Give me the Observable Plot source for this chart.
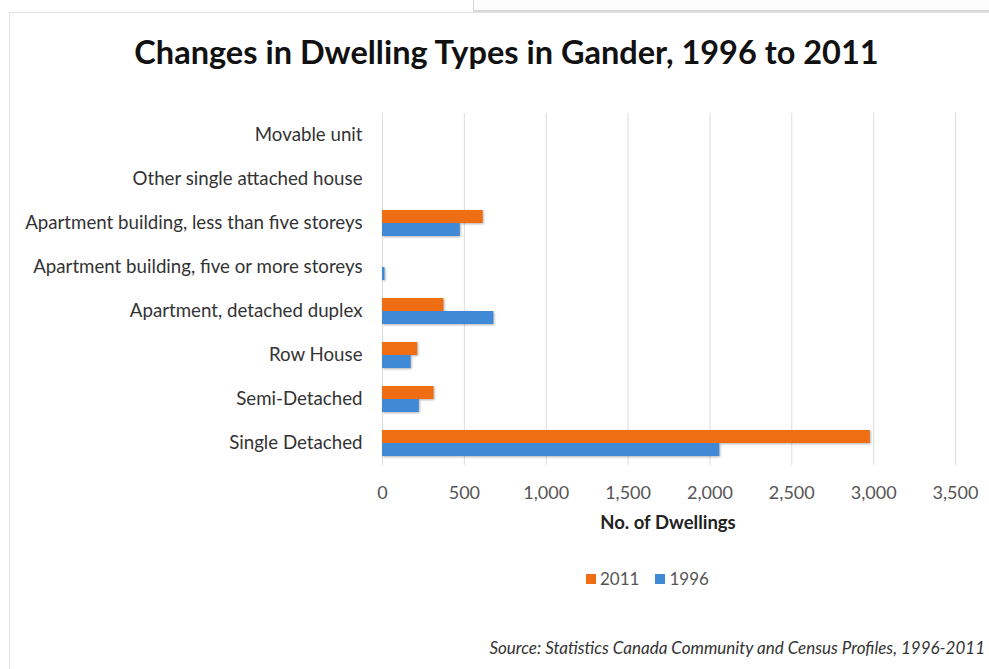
<!DOCTYPE html>
<html>
<head>
<meta charset="utf-8">
<script src="https://cdn.jsdelivr.net/npm/d3@7"></script>
<script src="https://cdn.jsdelivr.net/npm/@observablehq/plot@0.6"></script>
<style>
  html, body { margin: 0; padding: 0; background: #fff; }
  body { width: 989px; height: 669px; position: relative; overflow: hidden; font-family: Lato, sans-serif; }
  .card { position: absolute; left: 9px; top: 12px; width: 1000px; height: 700px; border-left: 1.5px solid #e2e2e2; border-top: 1.5px solid #e2e2e2; }
  .panel { position: absolute; left: 473px; top: -2px; width: 530px; height: 12px; border-left: 1px solid #d6d6d6; border-bottom: 2px solid #d9d9d9; background: #fcfcfc; }
  .title { position: absolute; left: 0; width: 1013px; top: 32px; text-align: center; font-size: 32.5px; font-weight: 700; color: #111; }
  #chart { position: absolute; left: 0; top: 100px; }
  .xlabel { position: absolute; left: 568px; width: 200px; top: 511px; text-align: center; font-size: 18.5px; font-weight: 700; color: #222; }
  .legend { position: absolute; left: 586px; top: 568px; font-size: 17px; color: #555; display: flex; align-items: center; }
  .legend span.sw { display: inline-block; width: 10px; height: 10px; margin-right: 4px; }
  .legend span.lab { margin-right: 16px; }
  .source { position: absolute; right: 4px; top: 637px; font-size: 17px; font-style: italic; color: #333; }
  #chart g[aria-label="bar"] { filter: drop-shadow(1px 1.5px 1px rgba(0,0,0,0.3)); }
</style>
</head>
<body>
<div class="card"></div>
<div class="panel"></div>
<div class="title">Changes in Dwelling Types in Gander, 1996 to 2011</div>
<div id="chart"></div>
<div class="xlabel">No. of Dwellings</div>
<div class="legend" id="legend"></div>
<div class="source">Source: Statistics Canada Community and Census Profiles, 1996-2011</div>
<script>
// Dwelling types, top to bottom
const categories = [
  "Movable unit",
  "Other single attached house",
  "Apartment building, less than five storeys",
  "Apartment building, five or more storeys",
  "Apartment, detached duplex",
  "Row House",
  "Semi-Detached",
  "Single Detached"
];
// Census years, in the order drawn within each group
const series = ["2011", "1996"];
const seriesColors = ["#EF6E14", "#3F89D6"];
// Number of dwellings by type
const values2011 = [0, 0, 615, 0, 375, 215, 315, 2980];
const values1996 = [0, 0, 475, 15, 680, 175, 225, 2060];
// Value axis ticks
const xTicks = [0, 500, 1000, 1500, 2000, 2500, 3000, 3500];

const rows = [];
categories.forEach((type, i) => {
  rows.push({type, year: "2011", value: values2011[i]});
  rows.push({type, year: "1996", value: values1996[i]});
});

const chart = Plot.plot({
  width: 989,
  height: 12 + 354 + 60,
  marginTop: 12,
  marginBottom: 60,
  marginLeft: 382,
  marginRight: 34,
  style: {fontFamily: "Lato, sans-serif", fontSize: "16px", color: "#333", background: "transparent", overflow: "visible"},
  x: {domain: [0, 3500], label: null},
  y: {domain: series, axis: null, paddingInner: 0, paddingOuter: 0.58},
  fy: {domain: categories, padding: 0, label: null, axis: null},
  color: {domain: series, range: seriesColors},
  marks: [
    Plot.gridX(xTicks, {stroke: "#dcdcdc", strokeOpacity: 1, strokeWidth: 1}),
    Plot.barX(rows, {fy: "type", y: "year", x: "value", fill: "year"}),
    Plot.axisX(xTicks, {tickSize: 0, tickPadding: 21, tickFormat: d3.format(","), fontSize: 18, fill: "#555", label: null}),
    Plot.axisFy({anchor: "left", tickSize: 0, tickPadding: 20, label: null, fontSize: 18.7, fill: "#333"})
  ]
});
document.getElementById("chart").appendChild(chart);

// Legend
const legend = document.getElementById("legend");
series.forEach((s, i) => {
  const sw = document.createElement("span");
  sw.className = "sw";
  sw.style.background = seriesColors[i];
  const lab = document.createElement("span");
  lab.className = "lab";
  lab.textContent = s;
  legend.appendChild(sw);
  legend.appendChild(lab);
});
</script>
</body>
</html>
